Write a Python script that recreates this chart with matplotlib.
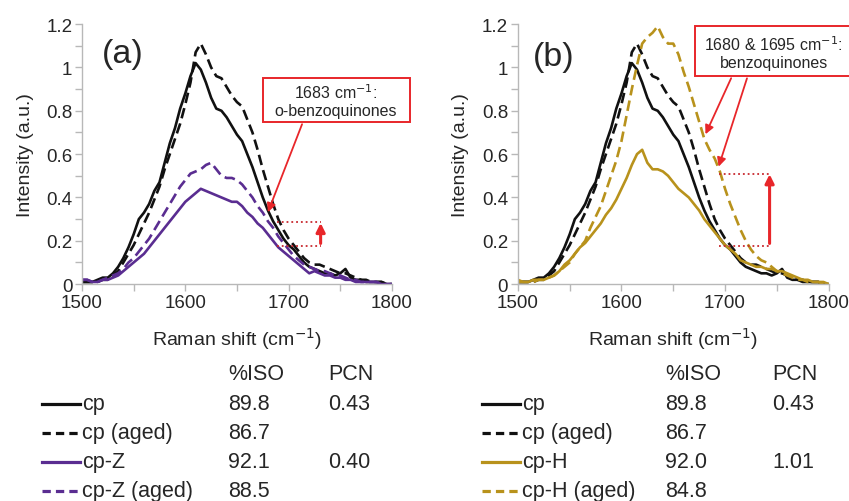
import numpy as np
import matplotlib
matplotlib.use('Agg')
import matplotlib.pyplot as plt
from matplotlib.lines import Line2D
from matplotlib.patches import Rectangle

plt.rcParams['font.family'] = ['Liberation Sans', 'DejaVu Sans']

### Data
shift = np.arange(1500, 1801, 5)

cp = [0.01, 0.01, 0.01, 0.02, 0.03, 0.03, 0.05, 0.08, 0.12, 0.17,
      0.23, 0.30, 0.33, 0.37, 0.43, 0.47, 0.56, 0.65, 0.72, 0.81,
      0.88, 0.96, 1.02, 0.99, 0.93, 0.86, 0.81, 0.80, 0.77, 0.73,
      0.69, 0.66, 0.60, 0.54, 0.47, 0.40, 0.34, 0.29, 0.25, 0.21,
      0.18, 0.16, 0.13, 0.10, 0.08, 0.07, 0.06, 0.05, 0.05, 0.04,
      0.05, 0.07, 0.03, 0.02, 0.02, 0.01, 0.01, 0.01, 0.01, 0.00, 0.00]
cp_aged = [0.01, 0.01, 0.01, 0.01, 0.02, 0.02, 0.04, 0.06, 0.10, 0.14,
           0.18, 0.23, 0.28, 0.33, 0.39, 0.45, 0.53, 0.60, 0.67, 0.74,
           0.83, 0.93, 1.07, 1.11, 1.06, 1.00, 0.96, 0.95, 0.91, 0.87,
           0.84, 0.82, 0.76, 0.70, 0.62, 0.53, 0.45, 0.37, 0.30, 0.25,
           0.21, 0.18, 0.15, 0.12, 0.10, 0.09, 0.09, 0.08, 0.07, 0.06,
           0.05, 0.05, 0.04, 0.03, 0.02, 0.02, 0.01, 0.01, 0.01, 0.00, 0.00]
cp_z = [0.02, 0.02, 0.01, 0.01, 0.02, 0.02, 0.03, 0.04, 0.06, 0.08,
        0.10, 0.12, 0.14, 0.17, 0.20, 0.23, 0.26, 0.29, 0.32, 0.35,
        0.38, 0.40, 0.42, 0.44, 0.43, 0.42, 0.41, 0.40, 0.39, 0.38,
        0.38, 0.36, 0.33, 0.31, 0.28, 0.26, 0.23, 0.20, 0.17, 0.15,
        0.13, 0.11, 0.09, 0.07, 0.05, 0.06, 0.05, 0.04, 0.04, 0.03,
        0.03, 0.02, 0.02, 0.01, 0.01, 0.01, 0.01, 0.01, 0.00, 0.00, 0.00]
cp_z_aged = [0.02, 0.02, 0.01, 0.01, 0.02, 0.03, 0.04, 0.05, 0.07, 0.10,
             0.12, 0.15, 0.18, 0.21, 0.25, 0.29, 0.33, 0.37, 0.41, 0.45,
             0.48, 0.51, 0.52, 0.53, 0.55, 0.56, 0.53, 0.50, 0.49, 0.49,
             0.48, 0.46, 0.43, 0.40, 0.36, 0.33, 0.29, 0.26, 0.22, 0.19,
             0.16, 0.13, 0.11, 0.09, 0.08, 0.07, 0.06, 0.06, 0.05, 0.04,
             0.04, 0.03, 0.02, 0.02, 0.01, 0.01, 0.01, 0.01, 0.00, 0.00, 0.00]
cp_h = [0.02, 0.01, 0.01, 0.02, 0.02, 0.02, 0.03, 0.04, 0.06, 0.09,
        0.11, 0.14, 0.17, 0.19, 0.22, 0.25, 0.28, 0.32, 0.35, 0.39,
        0.44, 0.49, 0.55, 0.60, 0.62, 0.56, 0.53, 0.53, 0.52, 0.50,
        0.47, 0.44, 0.42, 0.40, 0.37, 0.34, 0.30, 0.27, 0.24, 0.21,
        0.18, 0.16, 0.14, 0.11, 0.10, 0.09, 0.08, 0.08, 0.07, 0.07,
        0.06, 0.06, 0.05, 0.04, 0.03, 0.02, 0.02, 0.01, 0.01, 0.01, 0.00]
cp_h_aged = [0.01, 0.01, 0.01, 0.01, 0.02, 0.02, 0.03, 0.04, 0.06, 0.08,
             0.10, 0.14, 0.17, 0.20, 0.26, 0.31, 0.36, 0.43, 0.50, 0.57,
             0.66, 0.78, 0.90, 1.01, 1.11, 1.14, 1.16, 1.19, 1.14, 1.11,
             1.11, 1.06, 0.98, 0.91, 0.83, 0.75, 0.67, 0.62, 0.58, 0.52,
             0.44, 0.37, 0.31, 0.25, 0.20, 0.16, 0.13, 0.11, 0.10, 0.08,
             0.06, 0.05, 0.04, 0.03, 0.02, 0.02, 0.01, 0.01, 0.01, 0.00, 0.00]

# legend table
names_a = ['cp', 'cp (aged)', 'cp-Z', 'cp-Z (aged)']
iso_a = ['89.8', '86.7', '92.1', '88.5']
pcn_a = ['0.43', '', '0.40', '']
names_b = ['cp', 'cp (aged)', 'cp-H', 'cp-H (aged)']
iso_b = ['89.8', '86.7', '92.0', '84.8']
pcn_b = ['0.43', '', '1.01', '']

BLACK = '#111111'
PURPLE = '#5a2d91'
GOLD = '#b8921c'
RED = '#e8262a'
DOTRED = '#c8282e'
GREY = '#262626'
AXGREY = '#b8b8b8'

fig = plt.figure(figsize=(8.49, 5.02), dpi=100)
ax_a = fig.add_axes([0.0966, 0.432, 0.365, 0.518])
ax_b = fig.add_axes([0.610, 0.432, 0.366, 0.518])


def style_axes(ax):
    ax.set_xlim(1500, 1800)
    ax.set_ylim(0, 1.2)
    ax.set_xticks([1500, 1600, 1700, 1800])
    ax.set_xticks([1550, 1650, 1750], minor=True)
    ax.set_yticks([0, 0.2, 0.4, 0.6, 0.8, 1.0, 1.2])
    ax.set_yticklabels(['0', '0.2', '0.4', '0.6', '0.8', '1', '1.2'])
    ax.set_yticks(np.arange(0.1, 1.2, 0.2), minor=True)
    for s in ['top', 'right']:
        ax.spines[s].set_visible(False)
    for s in ['left', 'bottom']:
        ax.spines[s].set_color(AXGREY)
        ax.spines[s].set_linewidth(1.0)
    ax.tick_params(which='both', direction='out', color=AXGREY, labelsize=13.5,
                   labelcolor=GREY, width=1, length=5, pad=2)
    ax.set_xlabel('Raman shift (cm$^{\u22121}$)', fontsize=14, color=GREY, labelpad=10)
    ax.set_ylabel('Intensity (a.u.)', fontsize=14, color=GREY, labelpad=9)
    ax.patch.set_alpha(0)


def note_box(ax, x0, x1, y0, y1):
    ax.add_patch(Rectangle((x0, y0), x1 - x0, y1 - y0, fc='white', ec=RED,
                           lw=1.4, clip_on=False, zorder=5))


### Panel (a)
ax_a.plot(shift, cp, color=BLACK, lw=1.9)
ax_a.plot(shift, cp_aged, color=BLACK, lw=1.9, ls=(0, (4, 2)))
ax_a.plot(shift, cp_z, color=PURPLE, lw=1.9)
ax_a.plot(shift, cp_z_aged, color=PURPLE, lw=1.9, ls=(0, (4, 2)))
style_axes(ax_a)
ax_a.text(1539, 1.066, '(a)', fontsize=24.5, color=GREY, ha='center', va='center')
note_box(ax_a, 1675, 1818, 0.748, 0.95)
ax_a.text(1746, 0.848, '1683 cm$^{-1}$:\no-benzoquinones', fontsize=11.5, color=GREY,
          ha='center', va='center', linespacing=1.2, clip_on=False, zorder=6)
ax_a.annotate('', xy=(1679, 0.32), xytext=(1714, 0.75),
              arrowprops=dict(arrowstyle='-|>', color=RED, lw=1.3, mutation_scale=13))
ax_a.plot([1689, 1731], [0.288, 0.288], color=DOTRED, lw=1.3, ls=':')
ax_a.plot([1689, 1731], [0.177, 0.177], color=DOTRED, lw=1.3, ls=':')
ax_a.annotate('', xy=(1731, 0.295), xytext=(1731, 0.175),
              arrowprops=dict(arrowstyle='-|>', color=RED, lw=2.2, mutation_scale=13))

### Panel (b)
ax_b.plot(shift, cp, color=BLACK, lw=1.9)
ax_b.plot(shift, cp_aged, color=BLACK, lw=1.9, ls=(0, (4, 2)))
ax_b.plot(shift, cp_h, color=GOLD, lw=1.9)
ax_b.plot(shift, cp_h_aged, color=GOLD, lw=1.9, ls=(0, (4, 2)))
style_axes(ax_b)
ax_b.text(1535, 1.05, '(b)', fontsize=24.5, color=GREY, ha='center', va='center')
note_box(ax_b, 1671, 1826, 0.962, 1.19)
ax_b.text(1747, 1.07, '1680 & 1695 cm$^{-1}$:\nbenzoquinones', fontsize=11.5, color=GREY,
          ha='center', va='center', linespacing=1.2, clip_on=False, zorder=6)
ax_b.annotate('', xy=(1680, 0.68), xytext=(1707, 0.962),
              arrowprops=dict(arrowstyle='-|>', color=RED, lw=1.3, mutation_scale=13))
ax_b.annotate('', xy=(1693, 0.53), xytext=(1722, 0.962),
              arrowprops=dict(arrowstyle='-|>', color=RED, lw=1.3, mutation_scale=13))
ax_b.plot([1694, 1744], [0.51, 0.51], color=DOTRED, lw=1.3, ls=':')
ax_b.plot([1694, 1744], [0.177, 0.177], color=DOTRED, lw=1.3, ls=':')
ax_b.annotate('', xy=(1743, 0.52), xytext=(1743, 0.175),
              arrowprops=dict(arrowstyle='-|>', color=RED, lw=2.2, mutation_scale=13))

### Legend tables below the panels
header_y = 375
row_y = [405, 434, 463, 492]


def draw_table(x0, x_iso, x_pcn, names, iso, pcn, colors):
    fs = 15.5
    fig.text(x_iso / 849, 1 - header_y / 502, '%ISO', fontsize=fs, color=GREY, va='center')
    fig.text(x_pcn / 849, 1 - header_y / 502, 'PCN', fontsize=fs, color=GREY, va='center')
    for i, (n, v, p) in enumerate(zip(names, iso, pcn)):
        yy = 1 - row_y[i] / 502
        ls = '-' if i % 2 == 0 else (0, (2.6, 1.6))
        fig.add_artist(Line2D([x0 / 849, (x0 + 38) / 849], [yy, yy], color=colors[i],
                              lw=2.3, ls=ls))
        fig.text((x0 + 40) / 849, yy, n, fontsize=fs, color=GREY, va='center')
        fig.text(x_iso / 849, yy, v, fontsize=fs, color=GREY, va='center')
        fig.text(x_pcn / 849, yy, p, fontsize=fs, color=GREY, va='center')


draw_table(42, 228, 328, names_a, iso_a, pcn_a, [BLACK, BLACK, PURPLE, PURPLE])
draw_table(482, 665, 772, names_b, iso_b, pcn_b, [BLACK, BLACK, GOLD, GOLD])

plt.savefig('out.png', dpi=100)
